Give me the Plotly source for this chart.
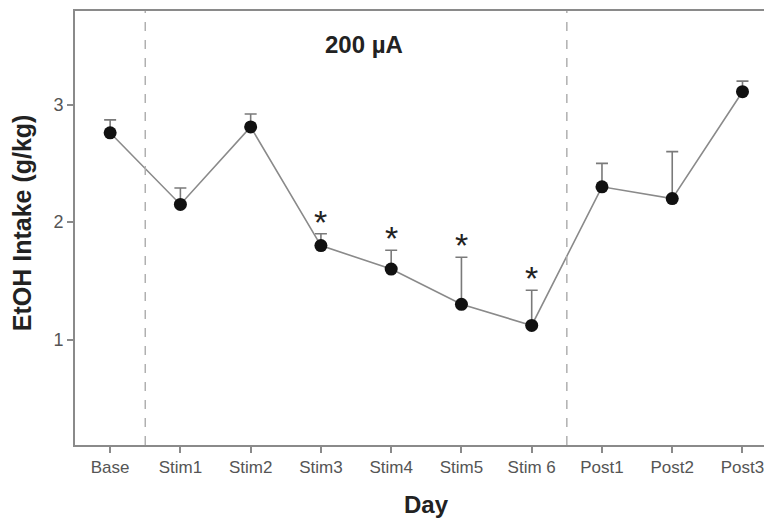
import plotly.graph_objects as go

days = ["Base", "Stim1", "Stim2", "Stim3", "Stim4", "Stim5", "Stim 6", "Post1", "Post2", "Post3"]
intake = [2.76, 2.15, 2.81, 1.80, 1.60, 1.30, 1.12, 2.30, 2.20, 3.11]
sem = [0.11, 0.14, 0.11, 0.10, 0.16, 0.40, 0.30, 0.20, 0.40, 0.09]
significant = ["Stim3", "Stim4", "Stim5", "Stim 6"]
dividers = [0.5, 6.5]

FONT = "Liberation Sans, Arial, sans-serif"
x_idx = list(range(len(days)))

fig = go.Figure()
fig.add_trace(go.Scatter(
    x=x_idx, y=intake,
    mode="lines+markers",
    line=dict(color="#8a8a8a", width=1.6),
    marker=dict(color="#111111", size=13),
    error_y=dict(type="data", symmetric=False, array=sem,
                 arrayminus=[0] * len(sem), color="#7a7a7a",
                 thickness=1.6, width=6),
    showlegend=False,
))

for d in dividers:
    fig.add_shape(type="line", xref="x", yref="paper", x0=d, x1=d, y0=0, y1=1,
                  line=dict(color="#b0b0b0", width=1.5, dash="dash"))

for name in significant:
    i = days.index(name)
    fig.add_annotation(x=i, y=intake[i] + sem[i], text="*", showarrow=False,
                       yanchor="bottom", yshift=-9,
                       font=dict(family=FONT, size=34, color="#222222"))

fig.add_annotation(xref="paper", yref="paper", x=0.415, y=0.922, text="<b>200 µA</b>",
                   xanchor="center", yanchor="middle",
                   showarrow=False, font=dict(family=FONT, size=24, color="#222222"))
fig.add_annotation(xref="paper", yref="paper", x=0.505, y=-0.138, text="<b>Day</b>",
                   xanchor="center", yanchor="middle",
                   showarrow=False, font=dict(family=FONT, size=24, color="#222222"))
fig.add_annotation(xref="paper", yref="paper", x=-0.076, y=0.511, text="<b>EtOH Intake (g/kg)</b>",
                   xanchor="center", yanchor="middle",
                   textangle=-90, showarrow=False, font=dict(family=FONT, size=25, color="#222222"))

fig.update_xaxes(range=[-0.5, 9.42], tickmode="array", tickvals=x_idx, ticktext=days,
                 showline=True, linecolor="#8a8a8a", linewidth=1.8, mirror=True,
                 ticks="outside", ticklen=6, tickcolor="#8a8a8a", tickwidth=1.5,
                 showgrid=False, zeroline=False,
                 tickfont=dict(family=FONT, size=17, color="#555555"))
fig.update_yaxes(range=[0.102, 3.797], tickvals=[1, 2, 3],
                 showline=True, linecolor="#8a8a8a", linewidth=1.8,
                 ticks="outside", ticklen=6, tickcolor="#8a8a8a", tickwidth=1.5,
                 showgrid=False, zeroline=False,
                 tickfont=dict(family=FONT, size=18, color="#555555"))

fig.update_layout(width=772, height=523, margin=dict(l=67, r=8, t=1, b=86),
                  plot_bgcolor="white", paper_bgcolor="white")

fig.write_html("out.html")
